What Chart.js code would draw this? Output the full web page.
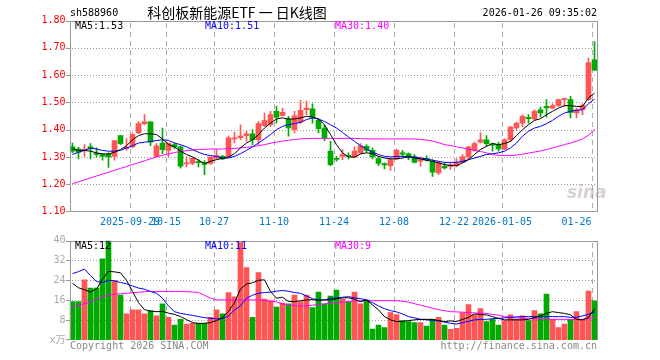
<!DOCTYPE html>
<html>
<head>
<meta charset="utf-8">
<script src="https://cdn.jsdelivr.net/npm/chart.js@4.4.0/dist/chart.umd.min.js"></script>
<style>
  body { margin: 0; background: #fff; }
  #wrap { position: relative; width: 660px; height: 360px; overflow: hidden; font: 10px "DejaVu Sans Mono", monospace; }
  canvas { position: absolute; left: 0; }
  .t { position: absolute; line-height: 12px; white-space: nowrap; }
</style>
</head>
<body>
<div id="wrap">
  <canvas id="kline" width="660" height="232" style="top:0"></canvas>
  <canvas id="vol" width="660" height="130" style="top:230px"></canvas>
  <div class="t" style="left:70px;top:7px">sh588960</div>
  <div class="t" style="left:237px;top:4px;transform:translateX(-50%);font:14px/16px 'Noto Sans CJK SC',sans-serif">科创板新能源ETF 一 日K线图</div>
  <div class="t" style="right:63px;top:7px">2026-01-26 09:35:02</div>
  <div class="t" id="pma5" style="left:75px;top:20px;color:#000"></div>
  <div class="t" id="pma10" style="left:205px;top:20px;color:#00f"></div>
  <div class="t" id="pma30" style="left:335px;top:20px;color:#f0f"></div>
  <div class="t" id="vma5" style="left:75px;top:240px;color:#000"></div>
  <div class="t" id="vma10" style="left:205px;top:240px;color:#00f"></div>
  <div class="t" id="vma30" style="left:335px;top:240px;color:#f0f"></div>
  <div class="t" style="left:70px;top:340px;color:#888">Copyright 2026 SINA.COM</div>
  <div class="t" style="right:63px;top:340px;color:#888">http://finance.sina.com.cn</div>
  <div class="t" style="left:567px;top:183px;font:italic bold 17px/18px 'DejaVu Sans',sans-serif;color:rgba(170,150,150,0.45)">sina</div>
</div>
<script>
// trading days shown (2025-09-15 .. 2026-01-26)
const dates = [
  '2025-09-15','2025-09-16','2025-09-17','2025-09-18','2025-09-19','2025-09-22','2025-09-23','2025-09-24','2025-09-25','2025-09-26',
  '2025-09-29','2025-09-30','2025-10-09','2025-10-10','2025-10-13','2025-10-14','2025-10-15','2025-10-16','2025-10-17','2025-10-20',
  '2025-10-21','2025-10-22','2025-10-23','2025-10-24','2025-10-27','2025-10-28','2025-10-29','2025-10-30','2025-10-31','2025-11-03',
  '2025-11-04','2025-11-05','2025-11-06','2025-11-07','2025-11-10','2025-11-11','2025-11-12','2025-11-13','2025-11-14','2025-11-17',
  '2025-11-18','2025-11-19','2025-11-20','2025-11-21','2025-11-24','2025-11-25','2025-11-26','2025-11-27','2025-11-28','2025-12-01',
  '2025-12-02','2025-12-03','2025-12-04','2025-12-05','2025-12-08','2025-12-09','2025-12-10','2025-12-11','2025-12-12','2025-12-15',
  '2025-12-16','2025-12-17','2025-12-18','2025-12-19','2025-12-22','2025-12-23','2025-12-24','2025-12-25','2025-12-26','2025-12-29',
  '2025-12-30','2025-12-31','2026-01-05','2026-01-06','2026-01-07','2026-01-08','2026-01-09','2026-01-12','2026-01-13','2026-01-14',
  '2026-01-15','2026-01-16','2026-01-19','2026-01-20','2026-01-21','2026-01-22','2026-01-23','2026-01-26'
];

const opens = [
  1.337,1.329,1.324,1.337,1.313,1.309,1.310,1.302,1.378,1.330,
  1.337,1.388,1.422,1.429,1.302,1.351,1.324,1.345,1.337,1.274,
  1.276,1.283,1.278,1.276,1.295,1.302,1.302,1.366,1.371,1.378,
  1.385,1.363,1.415,1.418,1.467,1.452,1.439,1.400,1.427,1.473,
  1.476,1.434,1.406,1.321,1.295,1.302,1.306,1.300,1.315,1.339,
  1.324,1.294,1.276,1.268,1.293,1.315,1.311,1.300,1.284,1.295,
  1.284,1.241,1.266,1.266,1.268,1.280,1.300,1.324,1.354,1.363,
  1.348,1.345,1.329,1.363,1.406,1.424,1.445,1.439,1.473,1.485,
  1.479,1.488,1.510,1.510,1.461,1.473,1.510,1.656
];
const closes = [
  1.321,1.317,1.329,1.329,1.309,1.302,1.300,1.360,1.349,1.335,
  1.382,1.422,1.429,1.354,1.341,1.327,1.351,1.337,1.266,1.278,
  1.295,1.279,1.273,1.299,1.305,1.293,1.370,1.370,1.376,1.385,
  1.363,1.422,1.433,1.455,1.446,1.463,1.406,1.451,1.471,1.479,
  1.446,1.404,1.370,1.272,1.291,1.309,1.302,1.321,1.341,1.324,
  1.300,1.276,1.271,1.290,1.324,1.310,1.302,1.280,1.293,1.288,
  1.244,1.278,1.260,1.272,1.280,1.300,1.337,1.349,1.363,1.349,
  1.343,1.329,1.363,1.409,1.424,1.449,1.440,1.467,1.461,1.480,
  1.488,1.510,1.513,1.463,1.473,1.488,1.646,1.618
];
const highs = [
  1.351,1.335,1.345,1.349,1.333,1.312,1.315,1.360,1.378,1.367,
  1.388,1.430,1.455,1.429,1.349,1.406,1.351,1.351,1.341,1.300,
  1.295,1.290,1.287,1.300,1.327,1.306,1.376,1.390,1.418,1.394,
  1.400,1.430,1.461,1.467,1.485,1.479,1.449,1.467,1.507,1.505,
  1.495,1.439,1.418,1.357,1.302,1.327,1.315,1.337,1.349,1.345,
  1.333,1.302,1.278,1.296,1.329,1.324,1.315,1.309,1.300,1.305,
  1.290,1.284,1.278,1.278,1.293,1.309,1.339,1.354,1.388,1.378,
  1.351,1.354,1.366,1.412,1.427,1.455,1.455,1.473,1.483,1.510,
  1.495,1.512,1.516,1.522,1.479,1.495,1.662,1.723
];
const lows = [
  1.315,1.293,1.302,1.293,1.300,1.288,1.262,1.288,1.345,1.324,
  1.333,1.385,1.418,1.341,1.300,1.312,1.300,1.329,1.259,1.263,
  1.272,1.263,1.235,1.273,1.293,1.290,1.300,1.351,1.363,1.357,
  1.345,1.345,1.412,1.412,1.424,1.449,1.376,1.388,1.422,1.455,
  1.424,1.388,1.360,1.268,1.284,1.290,1.293,1.296,1.312,1.317,
  1.293,1.268,1.256,1.251,1.290,1.300,1.290,1.278,1.266,1.284,
  1.229,1.235,1.256,1.254,1.263,1.278,1.293,1.321,1.351,1.339,
  1.321,1.321,1.327,1.357,1.400,1.410,1.424,1.434,1.446,1.446,
  1.476,1.485,1.485,1.443,1.443,1.455,1.507,1.617
];
const ma5 = [
  1.329,1.324,1.324,1.321,1.315,1.311,1.311,1.317,1.327,1.341,
  1.363,1.378,1.385,1.385,1.382,1.366,1.345,1.337,1.321,1.309,
  1.300,1.288,1.276,1.284,1.290,1.295,1.300,1.312,1.333,1.351,
  1.363,1.382,1.406,1.424,1.439,1.443,1.439,1.439,1.443,1.449,
  1.446,1.439,1.418,1.382,1.345,1.315,1.300,1.299,1.311,1.315,
  1.312,1.302,1.296,1.293,1.293,1.296,1.300,1.296,1.293,1.288,
  1.284,1.278,1.272,1.268,1.268,1.278,1.290,1.309,1.327,1.339,
  1.349,1.345,1.349,1.357,1.378,1.400,1.418,1.434,1.440,1.455,
  1.467,1.479,1.488,1.488,1.485,1.485,1.516,1.534
];
const ma10 = [
  1.309,1.317,1.324,1.333,1.329,1.324,1.321,1.321,1.324,1.333,
  1.341,1.351,1.354,1.357,1.360,1.363,1.361,1.351,1.345,1.337,
  1.327,1.317,1.309,1.305,1.302,1.296,1.296,1.302,1.312,1.324,
  1.337,1.351,1.366,1.382,1.400,1.412,1.418,1.422,1.427,1.437,
  1.443,1.439,1.430,1.418,1.406,1.390,1.373,1.357,1.341,1.329,
  1.317,1.309,1.302,1.300,1.302,1.302,1.300,1.300,1.296,1.293,
  1.288,1.284,1.280,1.280,1.280,1.284,1.290,1.296,1.302,1.309,
  1.312,1.315,1.321,1.333,1.351,1.376,1.394,1.406,1.412,1.422,
  1.434,1.449,1.461,1.467,1.471,1.473,1.495,1.512
];
const ma30 = [
  1.202,1.209,1.216,1.223,1.230,1.237,1.244,1.251,1.258,1.265,
  1.272,1.279,1.286,1.293,1.300,1.306,1.311,1.316,1.320,1.323,
  1.325,1.327,1.328,1.329,1.329,1.329,1.330,1.331,1.333,1.335,
  1.338,1.341,1.345,1.350,1.354,1.358,1.361,1.364,1.366,1.367,
  1.368,1.368,1.368,1.368,1.368,1.368,1.368,1.368,1.367,1.366,
  1.366,1.366,1.366,1.366,1.366,1.366,1.366,1.366,1.364,1.362,
  1.358,1.352,1.345,1.342,1.337,1.333,1.328,1.324,1.320,1.315,
  1.308,1.306,1.305,1.305,1.307,1.310,1.314,1.318,1.322,1.327,
  1.333,1.339,1.345,1.351,1.358,1.366,1.380,1.400
];

// volume (x万)
const volumes = [
  15.4,15.4,24.2,20.9,20.9,32.6,39.9,23.9,18.1,10.5,
  12.1,12.1,10.5,11.8,9.7,14.5,9.1,6.0,8.3,6.4,
  6.7,6.7,6.7,9.1,12.1,10.5,19.1,17.4,39.2,29.1,
  9.1,27.1,16.5,15.8,13.2,14.8,14.5,18.1,15.4,18.1,
  13.0,19.3,14.5,17.7,20.1,16.4,15.4,19.3,14.5,16.1,
  4.4,6.0,5.0,11.0,10.2,7.8,7.4,7.0,7.0,5.6,
  8.3,9.1,6.0,4.3,4.7,11.0,14.2,10.1,12.6,7.4,
  8.3,6.0,7.8,10.1,8.3,9.7,7.8,11.8,10.5,18.5,
  8.3,5.0,6.4,8.3,11.4,8.3,19.7,15.7
];
const volMa5 = [
  22.8,21.0,20.2,19.3,20.5,24.5,27.6,27.4,27.0,24.0,
  19.5,15.0,12.2,11.6,11.4,11.5,10.8,10.3,9.4,8.2,
  7.0,6.7,6.7,7.0,7.8,9.0,11.5,15.0,20.5,22.5,
  23.0,24.0,24.2,19.5,16.8,17.2,15.5,15.4,15.8,16.1,
  16.2,16.0,16.1,16.1,16.6,16.9,17.0,16.4,15.4,16.1,
  14.1,12.1,9.4,8.1,7.4,7.5,7.8,8.1,8.3,8.3,
  8.3,7.8,7.4,7.7,7.4,8.3,9.1,10.5,10.2,10.1,
  9.4,8.7,8.1,8.1,8.1,8.1,8.3,9.0,9.7,10.7,
  11.4,11.0,10.7,10.1,8.3,8.1,9.1,12.5
];
const volMa10 = [
  26.7,27.5,28.5,25.9,23.5,23.1,24.0,23.8,23.1,22.6,
  21.7,20.9,20.4,19.5,18.8,16.8,13.7,11.4,10.7,10.3,
  9.9,9.4,9.0,8.7,8.5,8.6,9.7,12.1,13.7,16.8,
  18.0,18.8,19.1,19.2,19.6,19.9,19.6,19.1,18.8,17.7,
  16.6,16.1,16.1,16.8,16.9,17.2,17.4,17.0,16.6,16.1,
  15.0,13.7,12.6,11.8,11.3,10.5,9.4,8.9,8.3,8.1,
  7.9,7.7,7.2,6.7,6.4,7.0,7.5,8.1,8.3,8.3,
  8.6,8.7,8.9,9.1,9.3,9.4,9.4,9.4,9.4,9.4,
  9.4,9.4,9.4,9.1,9.1,9.7,10.3,11.3
];
const volMa30 = [
  13.4,14.0,14.6,15.2,16.5,17.3,18.1,18.4,18.6,18.8,
  19.0,19.2,19.4,19.5,19.5,19.5,19.5,19.5,19.5,19.4,
  19.3,19.1,18.0,16.8,16.1,16.1,16.1,16.1,16.1,16.1,
  16.1,16.1,15.9,15.6,15.3,14.6,14.1,13.8,13.7,13.7,
  14.0,14.3,14.5,14.8,15.0,15.2,15.4,15.6,15.8,15.8,
  15.8,15.8,15.8,15.8,15.8,15.6,15.2,14.6,14.0,13.4,
  12.8,12.2,11.8,11.4,11.3,11.2,11.0,10.9,10.8,10.7,
  10.3,10.0,9.4,9.1,8.9,8.8,8.7,8.6,8.5,8.4,
  8.3,8.3,8.3,8.3,8.3,8.3,8.6,9.1
];

// date marks on the x axis: [date, label]
const xMarks = [
  ['2025-09-29', '2025-09-29'], ['2025-10-15', '10-15'], ['2025-10-27', '10-27'],
  ['2025-11-10', '11-10'], ['2025-11-24', '11-24'], ['2025-12-08', '12-08'],
  ['2025-12-22', '12-22'], ['2026-01-05', '2026-01-05'], ['2026-01-26', '01-26']
];
const priceTicks = [1.2, 1.3, 1.4, 1.5, 1.6, 1.7];
const volTicks = [8, 16, 24, 32];

const RED = '#ff5555';
const GREEN = '#00aa00';
const MONO = '"DejaVu Sans Mono", monospace';
const candleColors = closes.map((c, i) => c >= opens[i] ? RED : GREEN);

document.getElementById('pma5').textContent = 'MA5:' + ma5[ma5.length - 1].toFixed(2);
document.getElementById('pma10').textContent = 'MA10:' + ma10[ma10.length - 1].toFixed(2);
document.getElementById('pma30').textContent = 'MA30:' + ma30[ma30.length - 1].toFixed(2);
document.getElementById('vma5').textContent = 'MA5:' + Math.floor(volMa5[volMa5.length - 1]);
document.getElementById('vma10').textContent = 'MA10:' + Math.floor(volMa10[volMa10.length - 1]);
document.getElementById('vma30').textContent = 'MA30:' + Math.floor(volMa30[volMa30.length - 1]);

// grid under the data; frame, ticks and date labels on top
function panelPlugin(gridValues, showLabels, drawBottom) {
  return {
    id: 'panel',
    beforeDatasetsDraw(chart) {
      const { ctx, chartArea: a, scales: { x, y } } = chart;
      const left = Math.round(a.left), right = Math.round(a.right) - 1;
      const top = Math.round(a.top), bottom = Math.round(a.bottom) - 1;
      ctx.save();
      // dotted value lines
      ctx.fillStyle = '#999';
      gridValues.forEach(v => {
        const py = Math.round(y.getPixelForValue(v));
        for (let px = left + 2; px < right; px += 3) ctx.fillRect(px, py, 1, 1);
      });
      // dashed date lines
      ctx.fillStyle = '#aaa';
      xMarks.forEach(m => {
        const px = Math.round(x.getPixelForValue(dates.indexOf(m[0])) - 2.5);
        for (let py = top + 2; py < bottom; py += 9) ctx.fillRect(px, py, 1, Math.min(5, bottom - py));
      });
      ctx.restore();
    },
    afterDatasetsDraw(chart) {
      const { ctx, chartArea: a, scales: { x, y } } = chart;
      const left = Math.round(a.left), right = Math.round(a.right) - 1;
      const top = Math.round(a.top), bottom = Math.round(a.bottom) - 1;
      ctx.save();
      ctx.fillStyle = '#999';
      ctx.fillRect(left, top, 1, bottom - top + 1);
      ctx.fillRect(right, top, 1, bottom - top + 1);
      ctx.fillRect(left, top, right - left + 1, 1);
      if (drawBottom) ctx.fillRect(left, bottom, right - left + 1, 1);
      y.ticks.forEach(t => {
        const py = Math.round(y.getPixelForValue(t.value));
        ctx.fillRect(left - 4, Math.min(py, bottom), 4, 1);
      });
      if (showLabels) {
        ctx.fillStyle = '#0078c8';
        ctx.font = '10px ' + MONO;
        ctx.textAlign = 'center';
        ctx.textBaseline = 'middle';
        xMarks.forEach(m => {
          let px = x.getPixelForValue(dates.indexOf(m[0])) - 2.5;
          const w = ctx.measureText(m[1]).width;
          if (px + w / 2 > a.right - 6) px = a.right - 6 - w / 2;
          ctx.fillText(m[1], px, a.bottom + 11);
        });
      }
      ctx.restore();
    }
  };
}

function maLine(data, color) {
  return { type: 'line', data: data, borderColor: color, borderWidth: 1, pointRadius: 0, tension: 0, fill: false };
}

new Chart(document.getElementById('kline'), {
  type: 'bar',
  data: {
    labels: dates,
    datasets: [
      Object.assign(maLine(ma5, '#000'), { order: 0 }),
      Object.assign(maLine(ma10, '#00f'), { order: 1 }),
      Object.assign(maLine(ma30, '#f0f'), { order: 2 }),
      {
        data: opens.map((o, i) => [o, closes[i]]),
        backgroundColor: candleColors, borderWidth: 0,
        barThickness: 5, minBarLength: 1, grouped: false, order: 3
      },
      {
        data: lows.map((l, i) => [l, highs[i]]),
        backgroundColor: candleColors, borderWidth: 0,
        barThickness: 1, grouped: false, order: 4
      }
    ]
  },
  options: {
    responsive: false,
    animation: false,
    events: [],
    layout: { padding: { top: 20.5, bottom: 20.5, left: 0, right: 62.5 } },
    plugins: { legend: { display: false }, tooltip: { enabled: false } },
    scales: {
      x: { display: false, offset: true },
      y: {
        min: 1.1, max: 1.8,
        afterFit(s) { s.width = 69.5; },
        grid: { display: false, drawTicks: false },
        border: { display: false },
        ticks: {
          stepSize: 0.1, padding: 4, color: '#f00',
          font: { family: MONO, size: 10 },
          callback: v => v.toFixed(2)
        }
      }
    }
  },
  plugins: [panelPlugin(priceTicks, true, true)]
});

new Chart(document.getElementById('vol'), {
  type: 'bar',
  data: {
    labels: dates,
    datasets: [
      Object.assign(maLine(volMa5, '#000'), { order: 0 }),
      Object.assign(maLine(volMa10, '#00f'), { order: 1 }),
      Object.assign(maLine(volMa30, '#f0f'), { order: 2 }),
      { data: volumes, backgroundColor: candleColors, borderWidth: 0, barThickness: 5, order: 3 }
    ]
  },
  options: {
    responsive: false,
    animation: false,
    events: [],
    layout: { padding: { top: 10.5, bottom: 20, left: 0, right: 62.5 } },
    plugins: { legend: { display: false }, tooltip: { enabled: false } },
    scales: {
      x: { display: false, offset: true },
      y: {
        min: 0, max: 40,
        afterFit(s) { s.width = 69.5; },
        grid: { display: false, drawTicks: false },
        border: { display: false },
        ticks: {
          stepSize: 8, padding: 4, color: '#aaa',
          font: { family: MONO + ', "Noto Sans CJK SC"', size: 10 },
          callback: v => v === 0 ? 'x万' : v
        }
      }
    }
  },
  plugins: [panelPlugin(volTicks, false, false)]
});
</script>
</body>
</html>
